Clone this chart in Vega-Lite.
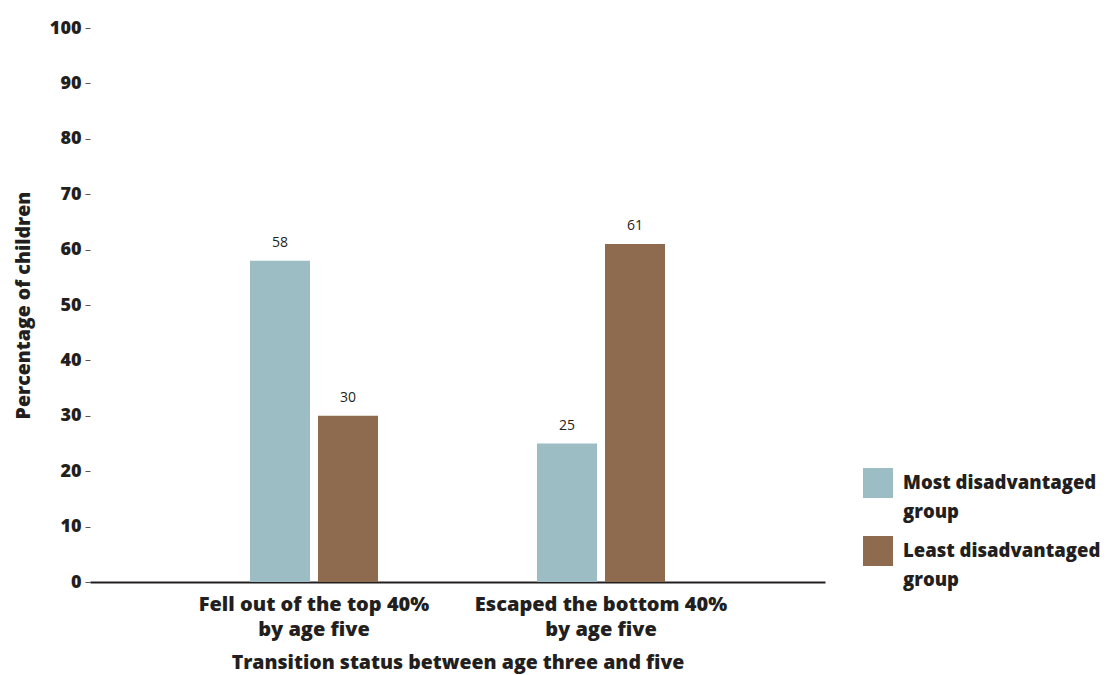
{
  "$schema": "https://vega.github.io/schema/vega-lite/v6.json",
  "width": 735,
  "height": 554,
  "autosize": {"type": "none"},
  "padding": {"left": 90, "top": 28, "right": 288, "bottom": 93},
  "background": "white",
  "config": {
    "view": {"stroke": null},
    "font": "Open Sans"
  },
  "data": {
    "values": [
      {"status": "Fell out of the top 40% by age five", "group": "Most disadvantaged group", "pct": 58},
      {"status": "Fell out of the top 40% by age five", "group": "Least disadvantaged group", "pct": 30},
      {"status": "Escaped the bottom 40% by age five", "group": "Most disadvantaged group", "pct": 25},
      {"status": "Escaped the bottom 40% by age five", "group": "Least disadvantaged group", "pct": 61}
    ]
  },
  "encoding": {
    "x": {
      "field": "status",
      "type": "nominal",
      "sort": ["Fell out of the top 40% by age five", "Escaped the bottom 40% by age five"],
      "scale": {"paddingInner": 0.526, "paddingOuter": 0.5435},
      "axis": {
        "title": "Transition status between age three and five",
        "titleFont": "Open Sans",
        "titleFontSize": 19.5,
        "titleFontWeight": 800,
        "titleColor": "#231f20",
        "titlePadding": 14,
        "labelFont": "Open Sans",
        "labelFontSize": 20,
        "labelFontWeight": 800,
        "labelColor": "#231f20",
        "labelAngle": 0,
        "labelPadding": 12,
        "labelLimit": 400,
        "labelLineHeight": 25,
        "labelExpr": "datum.value == 'Fell out of the top 40% by age five' ? ['Fell out of the top 40%', 'by age five'] : ['Escaped the bottom 40%', 'by age five']",
        "ticks": false,
        "domainColor": "#231f20",
        "domainWidth": 2
      }
    },
    "xOffset": {
      "field": "group",
      "type": "nominal",
      "sort": ["Most disadvantaged group", "Least disadvantaged group"],
      "scale": {"paddingInner": 0.1176, "paddingOuter": 0.0588}
    },
    "y": {
      "field": "pct",
      "type": "quantitative",
      "scale": {"domain": [0, 100]},
      "axis": {
        "title": "Percentage of children",
        "titleFont": "Open Sans",
        "titleFontSize": 19.5,
        "titleFontWeight": 800,
        "titleColor": "#231f20",
        "titlePadding": 16,
        "values": [0, 10, 20, 30, 40, 50, 60, 70, 80, 90, 100],
        "labelFont": "Open Sans",
        "labelFontSize": 18,
        "labelFontWeight": 800,
        "labelColor": "#231f20",
        "labelPadding": 4,
        "tickSize": 5,
        "tickColor": "#555555",
        "domain": false,
        "grid": false
      }
    }
  },
  "layer": [
    {
      "mark": {"type": "bar"},
      "encoding": {
        "color": {
          "field": "group",
          "type": "nominal",
          "sort": ["Most disadvantaged group", "Least disadvantaged group"],
          "scale": {"domain": ["Most disadvantaged group", "Least disadvantaged group"], "range": ["#9bbdc3", "#8e6b4e"]},
          "legend": {
            "title": null,
            "orient": "none",
            "legendX": 773,
            "legendY": 440,
            "symbolType": "square",
            "symbolSize": 900,
            "symbolStrokeWidth": 0,
            "labelFont": "Open Sans",
            "labelFontSize": 18.5,
            "labelFontWeight": 800,
            "labelColor": "#231f20",
            "labelOffset": 10,
            "labelLimit": 300,
            "rowPadding": 14,
            "labelExpr": "datum.value == 'Most disadvantaged group' ? ['Most disadvantaged', 'group'] : ['Least disadvantaged', 'group']",
            "encode": {
              "labels": {"update": {"lineHeight": {"value": 29}}}
            }
          }
        }
      }
    },
    {
      "mark": {"type": "text", "dy": -18, "font": "Open Sans", "fontSize": 14, "color": "#231f20"},
      "encoding": {
        "text": {"field": "pct", "type": "quantitative"}
      }
    }
  ]
}
